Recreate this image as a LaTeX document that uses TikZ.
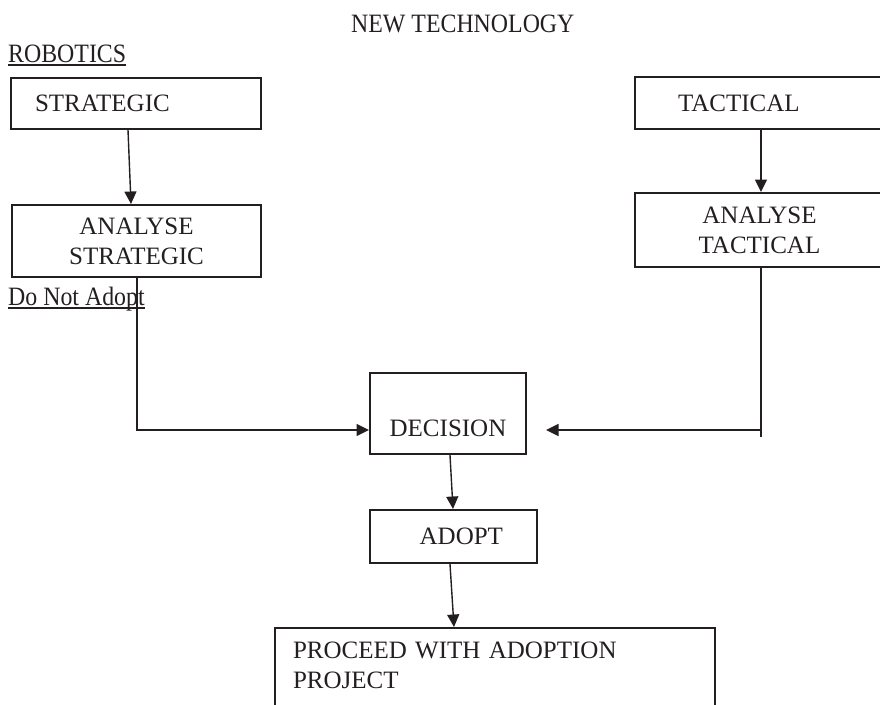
\documentclass[tikz,border=0pt]{standalone}
\usepackage{fontspec}
\setmainfont{Liberation Serif}
\newfontfamily\headfont[FakeStretch=0.9]{Liberation Serif}
\usetikzlibrary{arrows.meta}
\definecolor{ink}{HTML}{231F20}

\tikzset{
  box/.style={draw=ink, line width=2pt, rectangle, text=ink,
    font=\fontsize{25}{30}\selectfont},
  head/.style={inner sep=0pt, text=ink, font=\headfont\fontsize{26.5}{30}\selectfont},
  link/.style={draw=ink, line width=1.4pt},
  arrow/.style={link, -{Triangle[length=12.5pt,width=12pt]}}
}

\begin{document}
\begin{tikzpicture}[x=1pt, y=-1pt]
  \clip (0,0) rectangle (880,704);
  % headings
  \node[head, anchor=base west] (title) at (351,32) {NEW TECHNOLOGY};
  \node[head, anchor=base west] (robotics) at (8,62) {ROBOTICS};
  \node[head, anchor=base west] (reject) at (8,305) {Do Not Adopt};
  \draw[link, line width=1.6pt] ([yshift=-3pt]robotics.base west) -- ([yshift=-3pt]robotics.base east);
  \draw[link, line width=1.6pt] ([yshift=-3pt]reject.base west) -- ([yshift=-3pt]reject.base east);

  % boxes
  \node[box, minimum width=250pt, minimum height=51pt, text width=202pt,
    inner xsep=24pt, align=left] (strat) at (136,103.5) {STRATEGIC};
  \node[box, minimum width=249pt, minimum height=52pt, text width=163pt,
    inner xsep=43pt, align=left] (tact) at (759.5,103) {TACTICAL};
  \node[box, minimum width=249pt, minimum height=72pt, align=center]
    (astrat) at (136.5,241) {ANALYSE\\STRATEGIC};
  \node[box, minimum width=249pt, minimum height=74pt, align=center]
    (atact) at (759.5,230) {ANALYSE\\TACTICAL};
  \node[box, minimum width=156pt, minimum height=81pt, text height=45pt,
    text depth=0pt] (dec) at (448,413.5) {DECISION};
  \node[box, minimum width=167pt, minimum height=53pt, text width=99pt,
    inner xsep=34pt, align=right] (adopt) at (453.5,536.5) {ADOPT};
  \node[box, anchor=north west, text width=404pt, inner xsep=18pt,
    inner ysep=14pt, text depth=40pt, align=left]
    (proceed) at (274,627) {PROCEED WITH ADOPTION\\PROJECT};

  % connectors
  \coordinate (tturn) at (761,430);
  \draw[arrow] ([xshift=-8pt]strat.south) -- ([xshift=-5.5pt]astrat.north);
  \draw[arrow] ([xshift=1.5pt]tact.south) -- ([xshift=1.5pt]atact.north);
  \draw[arrow] ([xshift=0.5pt]astrat.south) |- ([yshift=-16.5pt]dec.west);
  \draw[link] ([xshift=1.5pt]atact.south) -- ([yshift=-7pt]tturn);
  \draw[arrow] (tturn) -- ([xshift=19pt,yshift=-16.5pt]dec.east);
  \draw[arrow] ([xshift=2pt]dec.south) -- ([xshift=-0.5pt]adopt.north);
  \draw[arrow] ([xshift=-3.5pt]adopt.south) -- ([xshift=-41pt]proceed.north);
\end{tikzpicture}
\end{document}
